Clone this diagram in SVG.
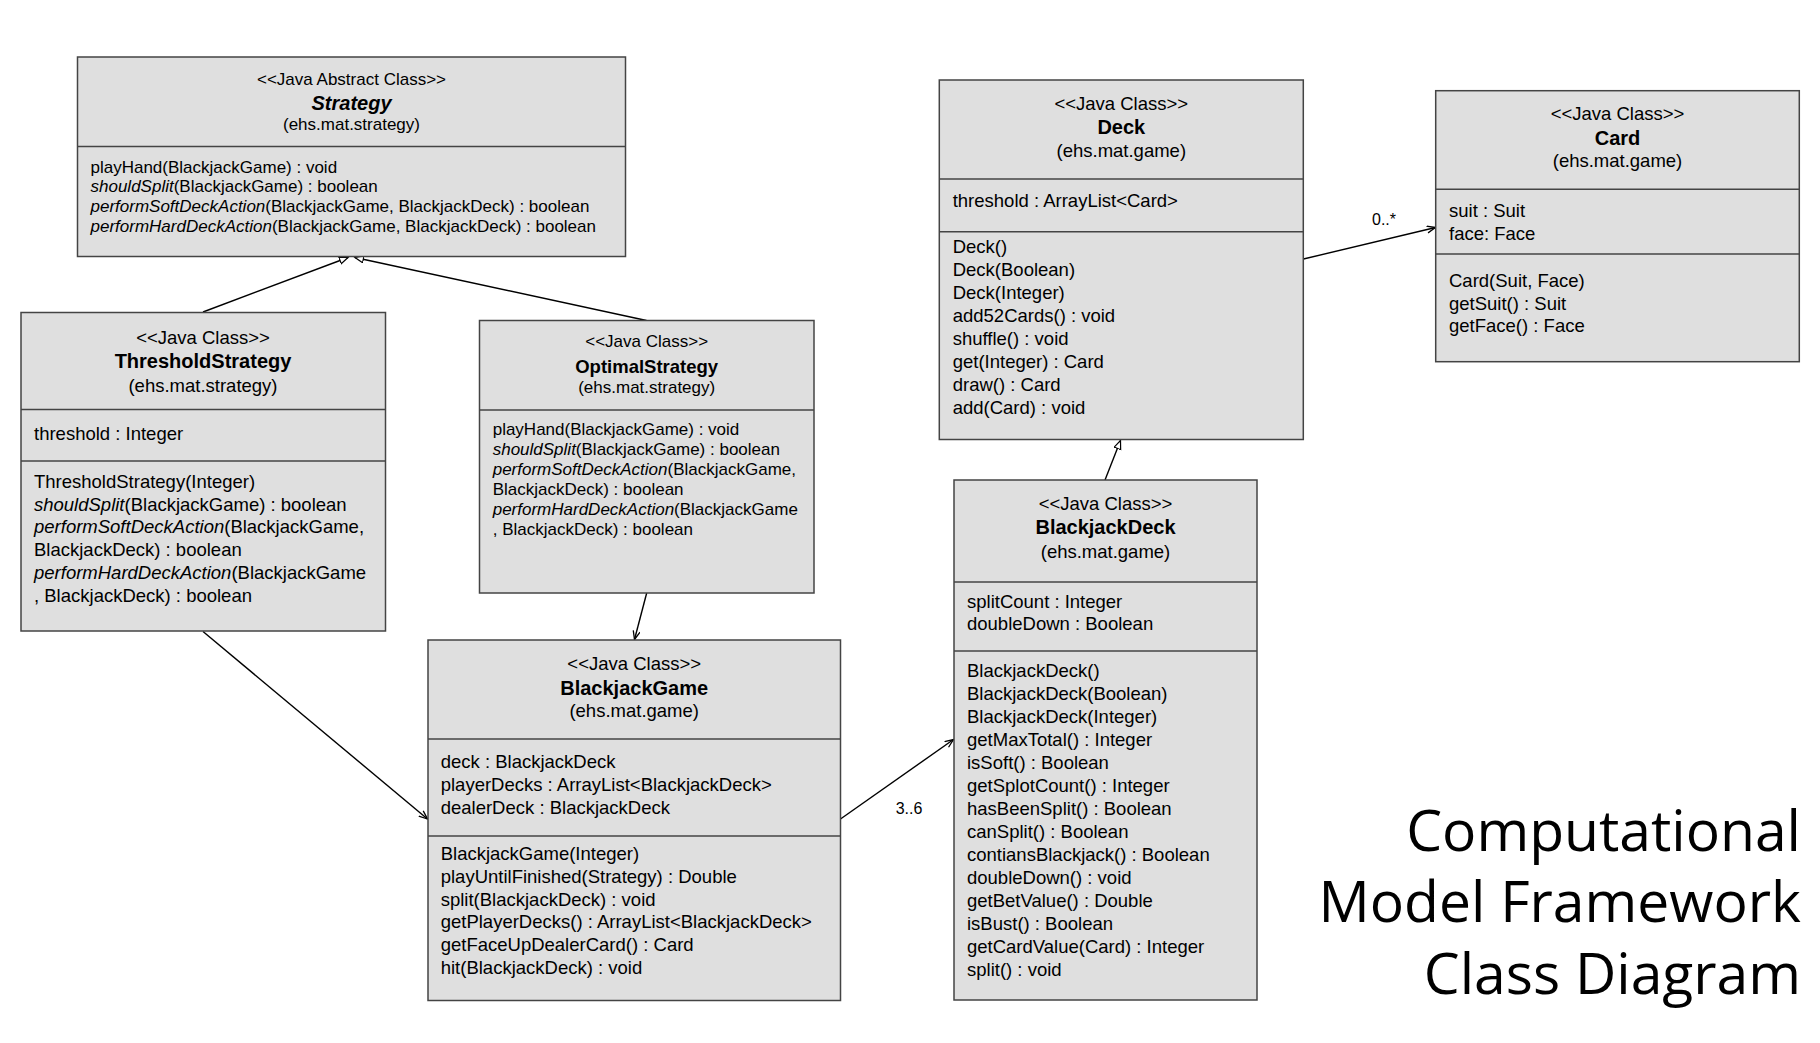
<svg xmlns="http://www.w3.org/2000/svg" width="1820" height="1043" viewBox="0 0 1820 1043">
<style>
text{font-family:"Liberation Sans",Arial,sans-serif;fill:#000}
.box{fill:#dfdfdf;stroke:#444;stroke-width:1.5}
.div{stroke:#444;stroke-width:1.5}
.st{font-size:18.5px;text-anchor:middle}
.nm{font-size:20px;font-weight:bold;text-anchor:middle}
.pk{font-size:18.5px;text-anchor:middle}
.tx{font-size:18.5px}
.sm .st,.sm .pk,.sm .tx{font-size:17px}
.i{font-style:italic}
.con{stroke:#000;stroke-width:1.4;fill:none}
.lbl{font-size:16px;text-anchor:middle}
.title{font-family:"Open Sans","Noto Sans",sans-serif;font-size:57px;text-anchor:end;font-variant-ligatures:none}
</style>
<defs>
<marker id="tri" markerUnits="userSpaceOnUse" markerWidth="12" markerHeight="10" refX="9" refY="4" orient="auto"><path d="M0.5,0.5 L9,4 L0.5,7.5 Z" fill="#fff" stroke="#000" stroke-width="1.2"/></marker>
<marker id="open" markerUnits="userSpaceOnUse" markerWidth="12" markerHeight="10" refX="9" refY="4" orient="auto"><path d="M0.5,0.5 L9,4 L0.5,7.5" fill="none" stroke="#000" stroke-width="1.3"/></marker>
</defs>
<rect width="1820" height="1043" fill="#fff"/>

<g id="connectors">
<line class="con" x1="203" y1="312" x2="348" y2="257.5" marker-end="url(#tri)"/>
<line class="con" x1="646.5" y1="320.5" x2="355" y2="257.5" marker-end="url(#tri)"/>
<line class="con" x1="646.7" y1="593" x2="634.5" y2="639.5" marker-end="url(#open)"/>
<line class="con" x1="203" y1="631.5" x2="427.5" y2="819" marker-end="url(#open)"/>
<line class="con" x1="840.5" y1="819" x2="953.5" y2="739.5" marker-end="url(#open)"/>
<text class="lbl" x="909" y="814">3..6</text>
<line class="con" x1="1105" y1="480" x2="1120.5" y2="440.5" marker-end="url(#tri)"/>
<line class="con" x1="1303.5" y1="259" x2="1435.5" y2="227.5" marker-end="url(#open)"/>
<text class="lbl" x="1384" y="225">0..*</text>
</g>

<g id="Strategy" class="sm">
<rect class="box" x="77.5" y="57" width="548" height="199.5"/>
<line class="div" x1="77.5" y1="146.5" x2="625.5" y2="146.5"/>
<text class="st" x="351.5" y="85">&lt;&lt;Java Abstract Class&gt;&gt;</text>
<text class="nm" x="351.5" y="109.5" font-style="italic">Strategy</text>
<text class="pk" x="351.5" y="130">(ehs.mat.strategy)</text>
<text class="tx" x="90.5" y="172.5">playHand(BlackjackGame) : void</text>
<text class="tx" x="90.5" y="192.2"><tspan class="i">shouldSplit</tspan>(BlackjackGame) : boolean</text>
<text class="tx" x="90.5" y="211.9"><tspan class="i">performSoftDeckAction</tspan>(BlackjackGame, BlackjackDeck) : boolean</text>
<text class="tx" x="90.5" y="231.6"><tspan class="i">performHardDeckAction</tspan>(BlackjackGame, BlackjackDeck) : boolean</text>
</g>

<g id="ThresholdStrategy">
<rect class="box" x="21" y="312.5" width="364.5" height="318.5"/>
<line class="div" x1="21" y1="409.5" x2="385.5" y2="409.5"/>
<line class="div" x1="21" y1="461" x2="385.5" y2="461"/>
<text class="st" x="203" y="343.5">&lt;&lt;Java Class&gt;&gt;</text>
<text class="nm" x="203" y="368">ThresholdStrategy</text>
<text class="pk" x="203" y="391.5">(ehs.mat.strategy)</text>
<text class="tx" x="34" y="440">threshold : Integer</text>
<text class="tx" x="34" y="488">ThresholdStrategy(Integer)</text>
<text class="tx" x="34" y="510.7"><tspan class="i">shouldSplit</tspan>(BlackjackGame) : boolean</text>
<text class="tx" x="34" y="533.4"><tspan class="i">performSoftDeckAction</tspan>(BlackjackGame,</text>
<text class="tx" x="34" y="556.1">BlackjackDeck) : boolean</text>
<text class="tx" x="34" y="578.8"><tspan class="i">performHardDeckAction</tspan>(BlackjackGame</text>
<text class="tx" x="34" y="601.5">, BlackjackDeck) : boolean</text>
</g>

<g id="OptimalStrategy" class="sm">
<rect class="box" x="479.5" y="320.5" width="334.5" height="272.5"/>
<line class="div" x1="479.5" y1="410" x2="814" y2="410"/>
<text class="st" x="646.7" y="347.3">&lt;&lt;Java Class&gt;&gt;</text>
<text class="nm" x="646.7" y="373.3" style="font-size:18.5px">OptimalStrategy</text>
<text class="pk" x="646.7" y="392.7">(ehs.mat.strategy)</text>
<text class="tx" x="492.7" y="435">playHand(BlackjackGame) : void</text>
<text class="tx" x="492.7" y="455"><tspan class="i">shouldSplit</tspan>(BlackjackGame) : boolean</text>
<text class="tx" x="492.7" y="475"><tspan class="i">performSoftDeckAction</tspan>(BlackjackGame,</text>
<text class="tx" x="492.7" y="495">BlackjackDeck) : boolean</text>
<text class="tx" x="492.7" y="515"><tspan class="i">performHardDeckAction</tspan>(BlackjackGame</text>
<text class="tx" x="492.7" y="535">, BlackjackDeck) : boolean</text>
</g>

<g id="BlackjackGame">
<rect class="box" x="428" y="640" width="412.5" height="360.5"/>
<line class="div" x1="428" y1="739" x2="840.5" y2="739"/>
<line class="div" x1="428" y1="836" x2="840.5" y2="836"/>
<text class="st" x="634.2" y="670">&lt;&lt;Java Class&gt;&gt;</text>
<text class="nm" x="634.2" y="694.5">BlackjackGame</text>
<text class="pk" x="634.2" y="717.3">(ehs.mat.game)</text>
<text class="tx" x="440.7" y="767.5">deck : BlackjackDeck</text>
<text class="tx" x="440.7" y="790.5">playerDecks : ArrayList&lt;BlackjackDeck&gt;</text>
<text class="tx" x="440.7" y="813.5">dealerDeck : BlackjackDeck</text>
<text class="tx" x="440.7" y="860">BlackjackGame(Integer)</text>
<text class="tx" x="440.7" y="882.8">playUntilFinished(Strategy) : Double</text>
<text class="tx" x="440.7" y="905.6">split(BlackjackDeck) : void</text>
<text class="tx" x="440.7" y="928.4">getPlayerDecks() : ArrayList&lt;BlackjackDeck&gt;</text>
<text class="tx" x="440.7" y="951.2">getFaceUpDealerCard() : Card</text>
<text class="tx" x="440.7" y="974">hit(BlackjackDeck) : void</text>
</g>

<g id="Deck">
<rect class="box" x="939.3" y="80" width="364" height="359.5"/>
<line class="div" x1="939.3" y1="179" x2="1303.3" y2="179"/>
<line class="div" x1="939.3" y1="231.7" x2="1303.3" y2="231.7"/>
<text class="st" x="1121.3" y="110">&lt;&lt;Java Class&gt;&gt;</text>
<text class="nm" x="1121.3" y="134.3">Deck</text>
<text class="pk" x="1121.3" y="157.3">(ehs.mat.game)</text>
<text class="tx" x="952.7" y="206.7">threshold : ArrayList&lt;Card&gt;</text>
<text class="tx" x="952.7" y="253.3">Deck()</text>
<text class="tx" x="952.7" y="276.3">Deck(Boolean)</text>
<text class="tx" x="952.7" y="299.3">Deck(Integer)</text>
<text class="tx" x="952.7" y="322.3">add52Cards() : void</text>
<text class="tx" x="952.7" y="345.3">shuffle() : void</text>
<text class="tx" x="952.7" y="368.3">get(Integer) : Card</text>
<text class="tx" x="952.7" y="391.3">draw() : Card</text>
<text class="tx" x="952.7" y="414.3">add(Card) : void</text>
</g>

<g id="Card">
<rect class="box" x="1435.7" y="90.7" width="363.6" height="271"/>
<line class="div" x1="1435.7" y1="189.3" x2="1799.3" y2="189.3"/>
<line class="div" x1="1435.7" y1="254" x2="1799.3" y2="254"/>
<text class="st" x="1617.5" y="120">&lt;&lt;Java Class&gt;&gt;</text>
<text class="nm" x="1617.5" y="145">Card</text>
<text class="pk" x="1617.5" y="167.3">(ehs.mat.game)</text>
<text class="tx" x="1449" y="217.3">suit : Suit</text>
<text class="tx" x="1449" y="240">face: Face</text>
<text class="tx" x="1449" y="286.7">Card(Suit, Face)</text>
<text class="tx" x="1449" y="309.5">getSuit() : Suit</text>
<text class="tx" x="1449" y="332.3">getFace() : Face</text>
</g>

<g id="BlackjackDeck">
<rect class="box" x="954" y="480" width="303" height="520"/>
<line class="div" x1="954" y1="582" x2="1257" y2="582"/>
<line class="div" x1="954" y1="651" x2="1257" y2="651"/>
<text class="st" x="1105.5" y="509.6">&lt;&lt;Java Class&gt;&gt;</text>
<text class="nm" x="1105.5" y="533.7">BlackjackDeck</text>
<text class="pk" x="1105.5" y="557.8">(ehs.mat.game)</text>
<text class="tx" x="967" y="607.7">splitCount : Integer</text>
<text class="tx" x="967" y="630.3">doubleDown : Boolean</text>
<text class="tx" x="967" y="676.6">BlackjackDeck()</text>
<text class="tx" x="967" y="699.6">BlackjackDeck(Boolean)</text>
<text class="tx" x="967" y="722.6">BlackjackDeck(Integer)</text>
<text class="tx" x="967" y="745.6">getMaxTotal() : Integer</text>
<text class="tx" x="967" y="768.6">isSoft() : Boolean</text>
<text class="tx" x="967" y="791.6">getSplotCount() : Integer</text>
<text class="tx" x="967" y="814.6">hasBeenSplit() : Boolean</text>
<text class="tx" x="967" y="837.6">canSplit() : Boolean</text>
<text class="tx" x="967" y="860.6">contiansBlackjack() : Boolean</text>
<text class="tx" x="967" y="883.6">doubleDown() : void</text>
<text class="tx" x="967" y="906.6">getBetValue() : Double</text>
<text class="tx" x="967" y="929.6">isBust() : Boolean</text>
<text class="tx" x="967" y="952.6">getCardValue(Card) : Integer</text>
<text class="tx" x="967" y="975.6">split() : void</text>
</g>

<g id="title">
<text class="title" x="1801" y="851">Computational</text>
<text class="title" x="1801" y="922">Model Framework</text>
<text class="title" x="1801" y="994">Class Diagram</text>
</g>
</svg>
